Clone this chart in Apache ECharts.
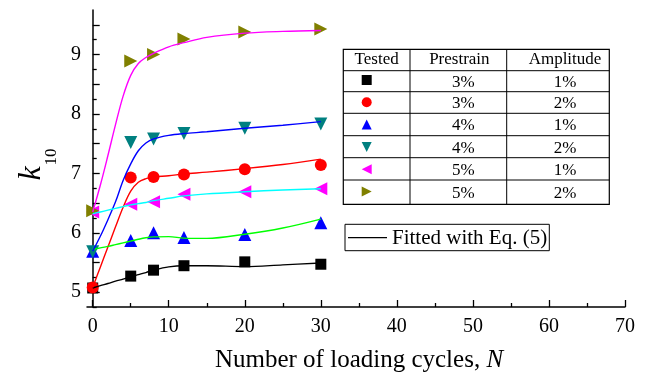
<!DOCTYPE html>
<html><head><meta charset="utf-8">
<script src="https://cdn.jsdelivr.net/npm/echarts@6/dist/echarts.min.js"></script>
<style>html,body{margin:0;padding:0;background:#fff}#c{width:650px;height:378px}</style>
</head><body><div id="c"></div>
<script>
// ---- data ----
const cycles = [0, 5, 8, 12, 20, 30];
const k_3_1 = [5.07, 5.27, 5.37, 5.445, 5.51, 5.47];
const k_3_2 = [5.08, 6.93, 6.94, 6.98, 7.07, 7.14];
const k_4_1 = [5.69, 5.87, 6.00, 5.92, 5.97, 6.17];
const k_4_2 = [5.68, 7.52, 7.58, 7.67, 7.76, 7.83];
const k_5_1 = [6.35, 6.48, 6.52, 6.65, 6.69, 6.74];
const k_5_2 = [6.37, 8.89, 9.00, 9.26, 9.38, 9.43];

const fitX = [0, 1, 2, 3, 4, 5, 6, 7, 8, 10, 12, 15, 20, 25, 30];
const fit_3_1 = [5.07, 5.11, 5.145, 5.185, 5.22, 5.26, 5.295, 5.33, 5.37, 5.425, 5.445, 5.445, 5.43, 5.46, 5.49];
const fit_3_2 = [5.08, 5.42, 5.76, 6.10, 6.43, 6.70, 6.85, 6.91, 6.94, 6.96, 6.99, 7.02, 7.08, 7.15, 7.24];
const fit_4_1 = [5.72, 5.745, 5.77, 5.80, 5.83, 5.86, 5.89, 5.915, 5.93, 5.935, 5.91, 5.905, 5.975, 6.08, 6.23];
const fit_4_2 = [5.69, 5.94, 6.22, 6.52, 6.88, 7.16, 7.38, 7.51, 7.58, 7.64, 7.67, 7.70, 7.76, 7.81, 7.87];
const fit_5_1 = [6.32, 6.35, 6.38, 6.41, 6.44, 6.47, 6.49, 6.51, 6.54, 6.58, 6.62, 6.655, 6.69, 6.72, 6.74];
const fit_5_2 = [6.35, 6.80, 7.30, 7.82, 8.30, 8.65, 8.85, 8.95, 9.02, 9.13, 9.20, 9.29, 9.36, 9.39, 9.405];

const xMajorTicks = [0, 10, 20, 30, 40, 50, 60, 70];
const xMinorTicks = [5, 15, 25, 35, 45, 55, 65];
const yLabelTicks = [5, 6, 7, 8, 9];
const yMajorTicks = [5, 5.5, 6, 6.5, 7, 7.5, 8, 8.5, 9, 9.5];
const yMinorTicks = [4.75, 5.25, 5.75, 6.25, 6.75, 7.25, 7.75, 8.25, 8.75, 9.25];

const tableHeader = ['Tested', 'Prestrain', 'Amplitude'];
const prestrain = ['3%', '3%', '4%', '4%', '5%', '5%'];
const amplitude = ['1%', '2%', '1%', '2%', '1%', '2%'];
const seriesNames = ['3% / 1%', '3% / 2%', '4% / 1%', '4% / 2%', '5% / 1%', '5% / 2%'];
const fitLabel = 'Fitted with Eq. (5)';
const xTitle = 'Number of loading cycles, ';
const xTitleItalic = 'N';

// ---- chart ----
const FONT = 'Liberation Serif';
const chart = echarts.init(document.getElementById('c'), null, {renderer: 'canvas'});
const pair = (xs, ys) => xs.map((x, i) => [x, ys[i]]);

const markerDefs = [
  {data: k_3_1, symbol: 'rect', size: 11, rot: 0, color: '#000000', icon: 'rect'},
  {data: k_3_2, symbol: 'circle', size: 12, rot: 0, color: '#ff0000', icon: 'circle'},
  {data: k_4_1, symbol: 'triangle', size: 13, rot: 0, color: '#0000ff', icon: 'path://M5,0L10,10L0,10Z'},
  {data: k_4_2, symbol: 'triangle', size: 13, rot: 180, color: '#008080', icon: 'path://M0,0L10,0L5,10Z'},
  {data: k_5_1, symbol: 'triangle', size: 13, rot: 90, color: '#ff00ff', icon: 'path://M10,0L10,10L0,5Z'},
  {data: k_5_2, symbol: 'triangle', size: 13, rot: -90, color: '#808000', icon: 'path://M0,0L10,5L0,10Z'}
];
const fitDefs = [
  {data: fit_3_1, color: '#000000'},
  {data: fit_3_2, color: '#ff0000'},
  {data: fit_4_1, color: '#00ff00'},
  {data: fit_4_2, color: '#0000ff'},
  {data: fit_5_1, color: '#00ffff'},
  {data: fit_5_2, color: '#ff00ff'}
];

const series = [];
markerDefs.forEach((m, i) => {
  series.push({
    name: seriesNames[i], type: 'scatter', xAxisIndex: 0, yAxisIndex: 0,
    data: pair(cycles, m.data), symbol: m.symbol, symbolSize: m.size, symbolRotate: m.rot,
    itemStyle: {color: m.color, opacity: 1}, z: 3
  });
});
fitDefs.forEach((f, i) => {
  series.push({
    name: 'fit' + i, type: 'line', xAxisIndex: 0, yAxisIndex: 0,
    data: pair(fitX, f.data), symbol: 'none', smooth: 0.35,
    lineStyle: {color: f.color, width: 1.4}, itemStyle: {color: f.color}, z: 4
  });
});

// table geometry
const tL = 343.3, tR = 609.3, tT = 49.3, tB = 204.3;
const colX = [410, 506.7];
const rowY = [70.7, 91.7, 113.3, 135.7, 157.7, 180];
const rowEdges = [tT].concat(rowY).concat([tB]);
const graphics = [];
graphics.push({type: 'rect', shape: {x: tL, y: tT, width: tR - tL, height: tB - tT}, style: {fill: null, stroke: '#000', lineWidth: 1.2}});
colX.forEach(x => graphics.push({type: 'line', shape: {x1: x, y1: tT, x2: x, y2: tB}, style: {stroke: '#000', lineWidth: 1}}));
rowY.forEach(y => graphics.push({type: 'line', shape: {x1: tL, y1: y, x2: tR, y2: y}, style: {stroke: '#000', lineWidth: 1}}));
const colC = [(tL + colX[0]) / 2, (colX[0] + colX[1]) / 2 + 1, (colX[1] + tR) / 2 + 7];
tableHeader.forEach((t, j) => graphics.push({type: 'text', x: colC[j], y: (rowEdges[0] + rowEdges[1]) / 2,
  style: {text: t, font: '17px "Liberation Serif"', fill: '#000', align: 'center', verticalAlign: 'middle'}}));
prestrain.forEach((t, i) => {
  const yc = (rowEdges[i + 1] + rowEdges[i + 2]) / 2 + 1.5;
  graphics.push({type: 'text', x: colC[1] + 4, y: yc, style: {text: t, font: '17px "Liberation Serif"', fill: '#000', align: 'center', verticalAlign: 'middle'}});
  graphics.push({type: 'text', x: colC[2], y: yc, style: {text: amplitude[i], font: '17px "Liberation Serif"', fill: '#000', align: 'center', verticalAlign: 'middle'}});
});
// fitted legend box
graphics.push({type: 'rect', shape: {x: 345, y: 224.3, width: 204.3, height: 26.4}, style: {fill: null, stroke: '#000', lineWidth: 1}});
graphics.push({type: 'line', shape: {x1: 348, y1: 237.7, x2: 387, y2: 237.7}, style: {stroke: '#000', lineWidth: 1.2}});
graphics.push({type: 'text', x: 392, y: 238, style: {text: fitLabel, font: '21px "Liberation Serif"', fill: '#000', align: 'left', verticalAlign: 'middle'}});

const axisCommon = {
  type: 'value', splitLine: {show: false},
  axisLine: {show: true, lineStyle: {color: '#000', width: 1.5}}
};

const option = {
  animation: false,
  backgroundColor: '#fff',
  grid: {left: 87, right: 25, top: 10, bottom: 68, containLabel: false},
  xAxis: [
    Object.assign({}, axisCommon, {
      position: 'bottom', min: -0.75, max: 70,
      axisTick: {show: true, inside: true, length: 7, customValues: xMajorTicks, lineStyle: {color: '#000', width: 1.3}},
      axisLabel: {show: true, customValues: xMajorTicks, margin: 10, color: '#000', fontFamily: FONT, fontSize: 20},
      name: xTitle + '{i|' + xTitleItalic + '}', nameLocation: 'middle', nameGap: 41,
      nameTextStyle: {color: '#000', fontFamily: FONT, fontSize: 25, padding: [0, 0, 0, 6],
        rich: {i: {fontStyle: 'italic', fontFamily: FONT, fontSize: 25, color: '#000'}}}
    }),
    Object.assign({}, axisCommon, {
      position: 'bottom', min: -0.75, max: 70, axisLine: {show: false},
      axisTick: {show: true, inside: true, length: 4, customValues: xMinorTicks, lineStyle: {color: '#000', width: 1.3}},
      axisLabel: {show: false}
    })
  ],
  yAxis: [
    Object.assign({}, axisCommon, {
      position: 'left', min: 4.75, max: 9.75,
      axisTick: {show: true, inside: true, length: 7, customValues: yMajorTicks, lineStyle: {color: '#000', width: 1.3}},
      axisLabel: {show: true, customValues: yLabelTicks, margin: 6, color: '#000', fontFamily: FONT, fontSize: 20},
      name: '{k|k}{s|10}', nameLocation: 'middle', nameRotate: 90, nameGap: 30,
      nameTextStyle: {color: '#000', padding: [0, 12, 0, 0], rich: {
        k: {fontStyle: 'italic', fontFamily: FONT, fontSize: 32, lineHeight: 32, verticalAlign: 'top', color: '#000'},
        s: {fontFamily: FONT, fontSize: 17, lineHeight: 17, verticalAlign: 'top', padding: [28, 0, 0, 1], color: '#000'}
      }}
    }),
    Object.assign({}, axisCommon, {
      position: 'left', min: 4.75, max: 9.75, axisLine: {show: false},
      axisTick: {show: true, inside: true, length: 4, customValues: yMinorTicks, lineStyle: {color: '#000', width: 1.3}},
      axisLabel: {show: false}
    })
  ],
  legend: {
    orient: 'vertical', left: 361.7, top: 75, padding: 0,
    itemWidth: 10, itemHeight: 10, itemGap: 12.3,
    data: seriesNames.map((n, i) => ({name: n, icon: markerDefs[i].icon})),
    selectedMode: false,
    formatter: () => '', textStyle: {fontSize: 6, lineHeight: 6}
  },
  graphic: graphics,
  series: series
};
chart.setOption(option);
</script>
</body></html>
